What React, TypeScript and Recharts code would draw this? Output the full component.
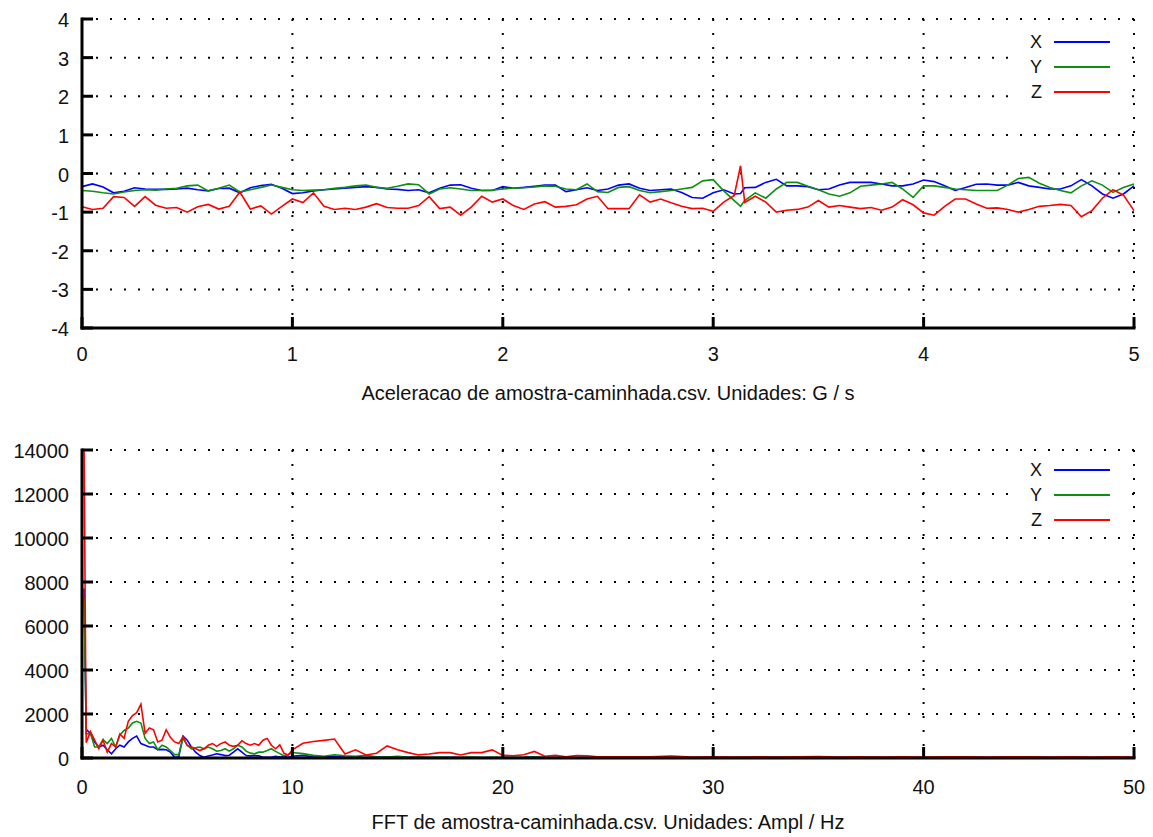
import { LineChart, Line, XAxis, YAxis, CartesianGrid, Legend } from "recharts";

// --- acceleration (G) over time (s) ---
const times = [
  0, 0.05, 0.1, 0.15, 0.2, 0.25, 0.3, 0.35, 0.4, 0.45,
  0.5, 0.55, 0.6, 0.65, 0.7, 0.75, 0.8, 0.85, 0.9, 0.95,
  1.0, 1.05, 1.1, 1.15, 1.2, 1.25, 1.3, 1.35, 1.4, 1.45,
  1.5, 1.55, 1.6, 1.65, 1.7, 1.75, 1.8, 1.85, 1.9, 1.95,
  2.0, 2.05, 2.1, 2.15, 2.2, 2.25, 2.3, 2.35, 2.4, 2.45,
  2.5, 2.55, 2.6, 2.65, 2.7, 2.75, 2.8, 2.85, 2.9, 2.95,
  3.0, 3.05, 3.1, 3.13, 3.15, 3.2, 3.25, 3.3, 3.35, 3.4,
  3.45, 3.5, 3.55, 3.6, 3.65, 3.7, 3.75, 3.8, 3.85, 3.9,
  3.95, 4.0, 4.05, 4.1, 4.15, 4.2, 4.25, 4.3, 4.35, 4.4,
  4.45, 4.5, 4.55, 4.6, 4.65, 4.7, 4.75, 4.8, 4.85, 4.9,
  4.95, 5.0,
];

const accX = [
  -0.34, -0.27, -0.35, -0.5, -0.46, -0.37, -0.4, -0.41, -0.41, -0.4,
  -0.38, -0.42, -0.45, -0.39, -0.38, -0.5, -0.37, -0.31, -0.28, -0.38,
  -0.52, -0.5, -0.45, -0.42, -0.4, -0.38, -0.36, -0.34, -0.36, -0.4,
  -0.41, -0.44, -0.42, -0.5, -0.38, -0.3, -0.29, -0.38, -0.44, -0.44,
  -0.34, -0.38, -0.36, -0.33, -0.3, -0.3, -0.47, -0.42, -0.37, -0.44,
  -0.4, -0.3, -0.27, -0.38, -0.44, -0.42, -0.4, -0.49, -0.62, -0.64,
  -0.5, -0.42, -0.53, -0.52, -0.37, -0.36, -0.23, -0.15, -0.32, -0.32,
  -0.34, -0.42, -0.4, -0.3, -0.23, -0.23, -0.23, -0.27, -0.32, -0.32,
  -0.27, -0.17, -0.21, -0.32, -0.44, -0.36, -0.28, -0.27, -0.3, -0.3,
  -0.23, -0.32, -0.36, -0.4, -0.4, -0.32, -0.16, -0.32, -0.53, -0.64,
  -0.53, -0.32,
];

const accY = [
  -0.44, -0.46, -0.5, -0.53, -0.48, -0.44, -0.42, -0.43, -0.4, -0.38,
  -0.32, -0.3, -0.45, -0.38, -0.3, -0.48, -0.42, -0.36, -0.3, -0.36,
  -0.42, -0.44, -0.43, -0.42, -0.38, -0.36, -0.32, -0.3, -0.36, -0.38,
  -0.33, -0.27, -0.29, -0.53, -0.4, -0.37, -0.4, -0.44, -0.44, -0.43,
  -0.4, -0.38, -0.37, -0.35, -0.32, -0.33, -0.4, -0.42, -0.27, -0.47,
  -0.49, -0.36, -0.34, -0.44, -0.5, -0.47, -0.44, -0.4, -0.36, -0.19,
  -0.16, -0.45, -0.7, -0.85, -0.7, -0.5, -0.64, -0.4, -0.23, -0.23,
  -0.33, -0.42, -0.53, -0.59, -0.5, -0.33, -0.3, -0.27, -0.23, -0.4,
  -0.62, -0.32, -0.32, -0.36, -0.4, -0.42, -0.44, -0.44, -0.44, -0.3,
  -0.13, -0.1, -0.25, -0.36, -0.44, -0.5, -0.32, -0.19, -0.3, -0.49,
  -0.36, -0.27,
];

const accZ = [
  -0.86, -0.93, -0.9, -0.6, -0.62, -0.85, -0.6, -0.82, -0.9, -0.88,
  -1.0, -0.86, -0.8, -0.92, -0.85, -0.48, -0.92, -0.84, -1.05, -0.85,
  -0.66, -0.75, -0.5, -0.85, -0.93, -0.9, -0.93, -0.87, -0.78, -0.88,
  -0.9, -0.9, -0.83, -0.6, -0.91, -0.87, -1.08, -0.87, -0.59, -0.74,
  -0.66, -0.83, -0.93, -0.79, -0.73, -0.87, -0.85, -0.81, -0.66, -0.59,
  -0.91, -0.91, -0.91, -0.55, -0.74, -0.66, -0.76, -0.85, -0.91, -0.9,
  -0.98, -0.74, -0.57, 0.2, -0.75, -0.59, -0.74, -1.0, -0.95, -0.93,
  -0.87, -0.7, -0.87, -0.83, -0.87, -0.91, -0.88, -0.95, -0.87, -0.68,
  -0.81, -1.02, -1.08, -0.85, -0.66, -0.66, -0.79, -0.9, -0.89, -0.93,
  -1.0, -0.93, -0.85, -0.83, -0.8, -0.83, -1.12, -0.96, -0.64, -0.42,
  -0.56, -0.96,
];

// --- FFT amplitude over frequency (Hz) ---
const freqs = [
  0.1, 0.2, 0.4, 0.6, 0.8, 1, 1.2, 1.4, 1.6, 1.8,
  2, 2.2, 2.4, 2.6, 2.8, 3, 3.2, 3.4, 3.6, 3.8,
  4, 4.2, 4.4, 4.6, 4.8, 5, 5.2, 5.4, 5.6, 5.8,
  6, 6.2, 6.4, 6.6, 6.8, 7, 7.2, 7.4, 7.6, 7.8,
  8, 8.2, 8.4, 8.6, 8.8, 9, 9.2, 9.4, 9.6, 9.8,
  10, 10.5, 11, 11.5, 12, 12.5, 13, 13.5, 14, 14.5,
  15, 15.5, 16, 16.5, 17, 17.5, 18, 18.5, 19, 19.5,
  20, 20.5, 21, 21.5, 22, 22.5, 23, 23.5, 24, 24.5,
  25, 26, 27, 28, 29, 30, 31, 32, 33, 34,
  35, 36, 37, 38, 39, 40, 41, 42, 43, 44,
  45, 46, 47, 48, 49, 50,
];

const fftX = [
  7700, 1300, 1120, 730, 500, 580, 375, 190, 420, 580,
  500, 730, 890, 1000, 655, 580, 500, 500, 375, 390,
  375, 265, 30, 60, 1000, 810, 500, 265, 110, 30,
  95, 140, 190, 155, 110, 125, 265, 420, 265, 110,
  95, 110, 95, 30, 30, 30, 80, 40, 60, 30,
  80, 120, 60, 40, 80, 30, 50, 20, 40, 30,
  20, 30, 20, 25, 20, 30, 20, 20, 25, 20,
  20, 20, 30, 60, 20, 20, 15, 20, 20, 15,
  20, 20, 15, 20, 15, 20, 20, 15, 20, 15,
  20, 15, 20, 20, 15, 20, 15, 20, 20, 15,
  20, 15, 20, 20, 15, 20,
];

const fftY = [
  7300, 1100, 1120, 500, 500, 840, 655, 890, 500, 1045,
  1250, 1360, 1590, 1670, 1590, 890, 655, 730, 375, 580,
  500, 340, 155, 155, 890, 580, 420, 470, 500, 420,
  500, 420, 310, 340, 420, 310, 420, 580, 500, 310,
  220, 190, 265, 265, 340, 420, 300, 200, 100, 150,
  250, 200, 120, 80, 150, 100, 80, 120, 60, 40,
  80, 30, 50, 30, 40, 20, 30, 40, 20, 30,
  20, 20, 30, 40, 20, 15, 20, 15, 20, 10,
  15, 10, 15, 10, 10, 15, 10, 10, 15, 10,
  10, 10, 15, 10, 10, 10, 15, 10, 10, 10,
  15, 10, 10, 10, 15, 10,
];

const fftZ = [
  13950, 700, 1200, 810, 420, 810, 265, 655, 500, 1090,
  890, 1670, 1930, 2060, 2450, 1120, 1360, 1280, 730, 810,
  1280, 940, 730, 655, 970, 580, 500, 420, 340, 420,
  580, 655, 530, 655, 730, 580, 530, 580, 780, 655,
  580, 655, 580, 810, 890, 580, 420, 600, 215, 140,
  370, 670, 750, 800, 860, 180, 370, 140, 215, 550,
  370, 245, 140, 180, 245, 245, 140, 245, 245, 370,
  120, 100, 150, 300, 80, 120, 60, 110, 100, 60,
  50, 60, 50, 90, 40, 50, 40, 60, 40, 50,
  70, 40, 60, 40, 50, 40, 60, 50, 40, 60,
  50, 40, 60, 40, 50, 40,
];

const accTicksX = [0, 1, 2, 3, 4, 5];
const accTicksY = [-4, -3, -2, -1, 0, 1, 2, 3, 4];
const fftTicksX = [0, 10, 20, 30, 40, 50];
const fftTicksY = [0, 2000, 4000, 6000, 8000, 10000, 12000, 14000];

const accTitle = "Aceleracao de amostra-caminhada.csv. Unidades: G / s";
const fftTitle = "FFT de amostra-caminhada.csv. Unidades: Ampl / Hz";

const accRows = times.map((t, i) => ({ k: t, x: accX[i], y: accY[i], z: accZ[i] }));
const fftRows = freqs.map((f, i) => ({ k: f, x: fftX[i], y: fftY[i], z: fftZ[i] }));

const INK = "#000";
const TEXT = "#111";
const FONT = '"Liberation Sans", Arial, Helvetica, sans-serif';
const TICK_LEN = 11;
const Y_GAP = 13;
const BORDER = { stroke: INK, strokeWidth: 3, strokeLinecap: "square" as const };

const leftTick = (props: any) => {
  const { x, y, payload } = props;
  const edge = x + Y_GAP;
  return (
    <g>
      <line x1={edge} y1={y} x2={edge + TICK_LEN} y2={y} stroke={INK} strokeWidth={3} />
      <text x={x} y={y} dy="0.4em" textAnchor="end" fontSize={20} fill={TEXT} fontFamily={FONT}>
        {payload.value}
      </text>
    </g>
  );
};

const rightTick = (props: any) => {
  const { x, y } = props;
  return <line x1={x - TICK_LEN} y1={y} x2={x} y2={y} stroke={INK} strokeWidth={3} />;
};

const topTick = (props: any) => {
  const { x, y } = props;
  return <line x1={x} y1={y} x2={x} y2={y + TICK_LEN} stroke={INK} strokeWidth={3} />;
};

const bottomTick = (gap: number) => (props: any) => {
  const { x, y, payload } = props;
  const edge = y - gap;
  return (
    <g>
      <line x1={x} y1={edge} x2={x} y2={edge - TICK_LEN} stroke={INK} strokeWidth={3} />
      <text x={x} y={y} dy="0.72em" textAnchor="middle" fontSize={20} fill={TEXT} fontFamily={FONT}>
        {payload.value}
      </text>
    </g>
  );
};

// gnuplot-style key: label on the left, sample line on the right, opaque box
function KeyBox({ payload }: any) {
  return (
    <div style={{ display: "flex", flexDirection: "column", background: "#fff", paddingLeft: 4, width: 106 }}>
      {(payload || []).map((p: any) => (
        <div key={p.value} style={{ display: "flex", alignItems: "center", height: 25 }}>
          <span style={{ width: 20, textAlign: "right", fontSize: 18, color: TEXT, marginRight: 12, lineHeight: "25px" }}>
            {p.value}
          </span>
          <span style={{ width: 56, height: 2, background: p.color }} />
        </div>
      ))}
    </div>
  );
}

function Panel({ rows, xDomain, xTicks, yDomain, yTicks, title, height, marginTop, axisHeight, xGap, titleOffset, legendTop }: any) {
  return (
    <LineChart width={1153} height={height} data={rows} margin={{ top: marginTop, right: 19, bottom: 0, left: 0 }}>
      <CartesianGrid stroke={INK} strokeWidth={2} strokeDasharray="2 12" />
      <XAxis
        dataKey="k"
        type="number"
        domain={xDomain}
        ticks={xTicks}
        interval={0}
        height={axisHeight}
        tickSize={0}
        tickMargin={xGap}
        tickLine={false}
        axisLine={BORDER}
        tick={bottomTick(xGap)}
        label={{ value: title, position: "insideBottom", offset: titleOffset, fill: TEXT, fontSize: 20 }}
      />
      <XAxis
        xAxisId="top"
        orientation="top"
        dataKey="k"
        type="number"
        domain={xDomain}
        ticks={xTicks}
        interval={0}
        height={0}
        tickSize={0}
        tickMargin={0}
        tickLine={false}
        axisLine={BORDER}
        tick={topTick}
      />
      <YAxis
        type="number"
        domain={yDomain}
        ticks={yTicks}
        interval={0}
        width={82}
        tickSize={0}
        tickMargin={Y_GAP}
        tickLine={false}
        axisLine={BORDER}
        tick={leftTick}
      />
      <YAxis
        yAxisId="right"
        orientation="right"
        type="number"
        domain={yDomain}
        ticks={yTicks}
        interval={0}
        width={0}
        tickSize={0}
        tickMargin={0}
        tickLine={false}
        axisLine={BORDER}
        tick={rightTick}
      />
      <Legend
        layout="vertical"
        align="center"
        verticalAlign="middle"
        wrapperStyle={{ top: legendTop, left: 1018, width: 110 }}
        content={(p: any) => <KeyBox {...p} />}
      />
      <Line dataKey="x" name="X" type="linear" stroke="#0000ff" strokeWidth={1.6} dot={false} isAnimationActive={false} />
      <Line dataKey="y" name="Y" type="linear" stroke="#0f8f0f" strokeWidth={1.6} dot={false} isAnimationActive={false} />
      <Line dataKey="z" name="Z" type="linear" stroke="#ff0000" strokeWidth={1.6} dot={false} isAnimationActive={false} />
    </LineChart>
  );
}

export default function App() {
  return (
    <div
      style={{
        position: "absolute",
        left: 0,
        top: 0,
        width: 1153,
        height: 837,
        background: "#fff",
        fontFamily: FONT,
      }}
    >
      <div style={{ position: "absolute", left: 0, top: 0 }}>
        <Panel
          rows={accRows}
          xDomain={[0, 5]}
          xTicks={accTicksX}
          yDomain={[-4, 4]}
          yTicks={accTicksY}
          title={accTitle}
          height={410}
          marginTop={19}
          axisHeight={82}
          xGap={19}
          titleOffset={10}
          legendTop={29.5}
        />
      </div>
      <div style={{ position: "absolute", left: 0, top: 430 }}>
        <Panel
          rows={fftRows}
          xDomain={[0, 50]}
          xTicks={fftTicksX}
          yDomain={[0, 14000]}
          yTicks={fftTicksY}
          title={fftTitle}
          height={407}
          marginTop={20}
          axisHeight={79}
          xGap={22}
          titleOffset={8}
          legendTop={27.5}
        />
      </div>
    </div>
  );
}
